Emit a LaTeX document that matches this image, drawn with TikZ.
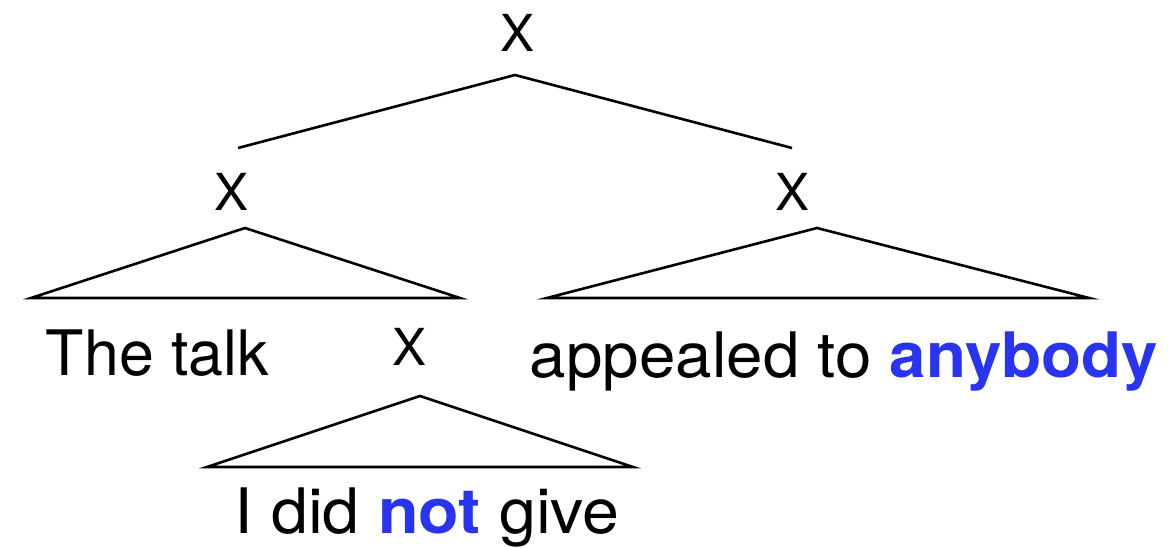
\documentclass[tikz,border=0pt]{standalone}
\usepackage{fontspec}
\setmainfont{TeX Gyre Heros}
\definecolor{hl}{RGB}{40,52,240}
\begin{document}
\begin{tikzpicture}[x=1pt,y=-1pt,line width=2.6pt,line join=miter,
  lab/.style={font=\fontsize{51}{60}\selectfont,inner sep=0pt,anchor=center},
  txt/.style={font=\fontsize{62.7}{72}\selectfont,inner sep=0pt,anchor=base}]
\useasboundingbox (0,0) rectangle (1173,549);
% labels
\node[lab] (top) at (518,33) {X};
\node[lab] (left) at (232,192) {X};
\node[lab] (right) at (793,192) {X};
\node[lab] (mid) at (410,347) {X};
% texts
\node[txt] (t1) at (157.5,375) {The talk};
\node[txt] (t2) at (844,377) {\scalebox{1.045}[1]{appealed to \textbf{\color{hl}anybody}}};
\node[txt] (t3) at (427,533) {\scalebox{1.058}[1]{I did \textbf{\color{hl}not} give}};
% top branches
\coordinate (r0) at (515,75);
\coordinate (r1) at (238,148);
\coordinate (r2) at (792,148);
\draw (r1) -- (r0) -- (r2);
% left triangle
\coordinate (la) at (245,228);
\coordinate (lb) at (31,298);
\coordinate (lc) at (460,298);
\draw (la) -- (lb) -- (lc) -- cycle;
% right triangle
\coordinate (ra) at (817,228);
\coordinate (rb) at (547,298);
\coordinate (rc) at (1089,298);
\draw (ra) -- (rb) -- (rc) -- cycle;
% middle triangle
\coordinate (ma) at (420,396);
\coordinate (mb) at (207,467);
\coordinate (mc) at (633,467);
\draw (ma) -- (mb) -- (mc) -- cycle;
\end{tikzpicture}
\end{document}
